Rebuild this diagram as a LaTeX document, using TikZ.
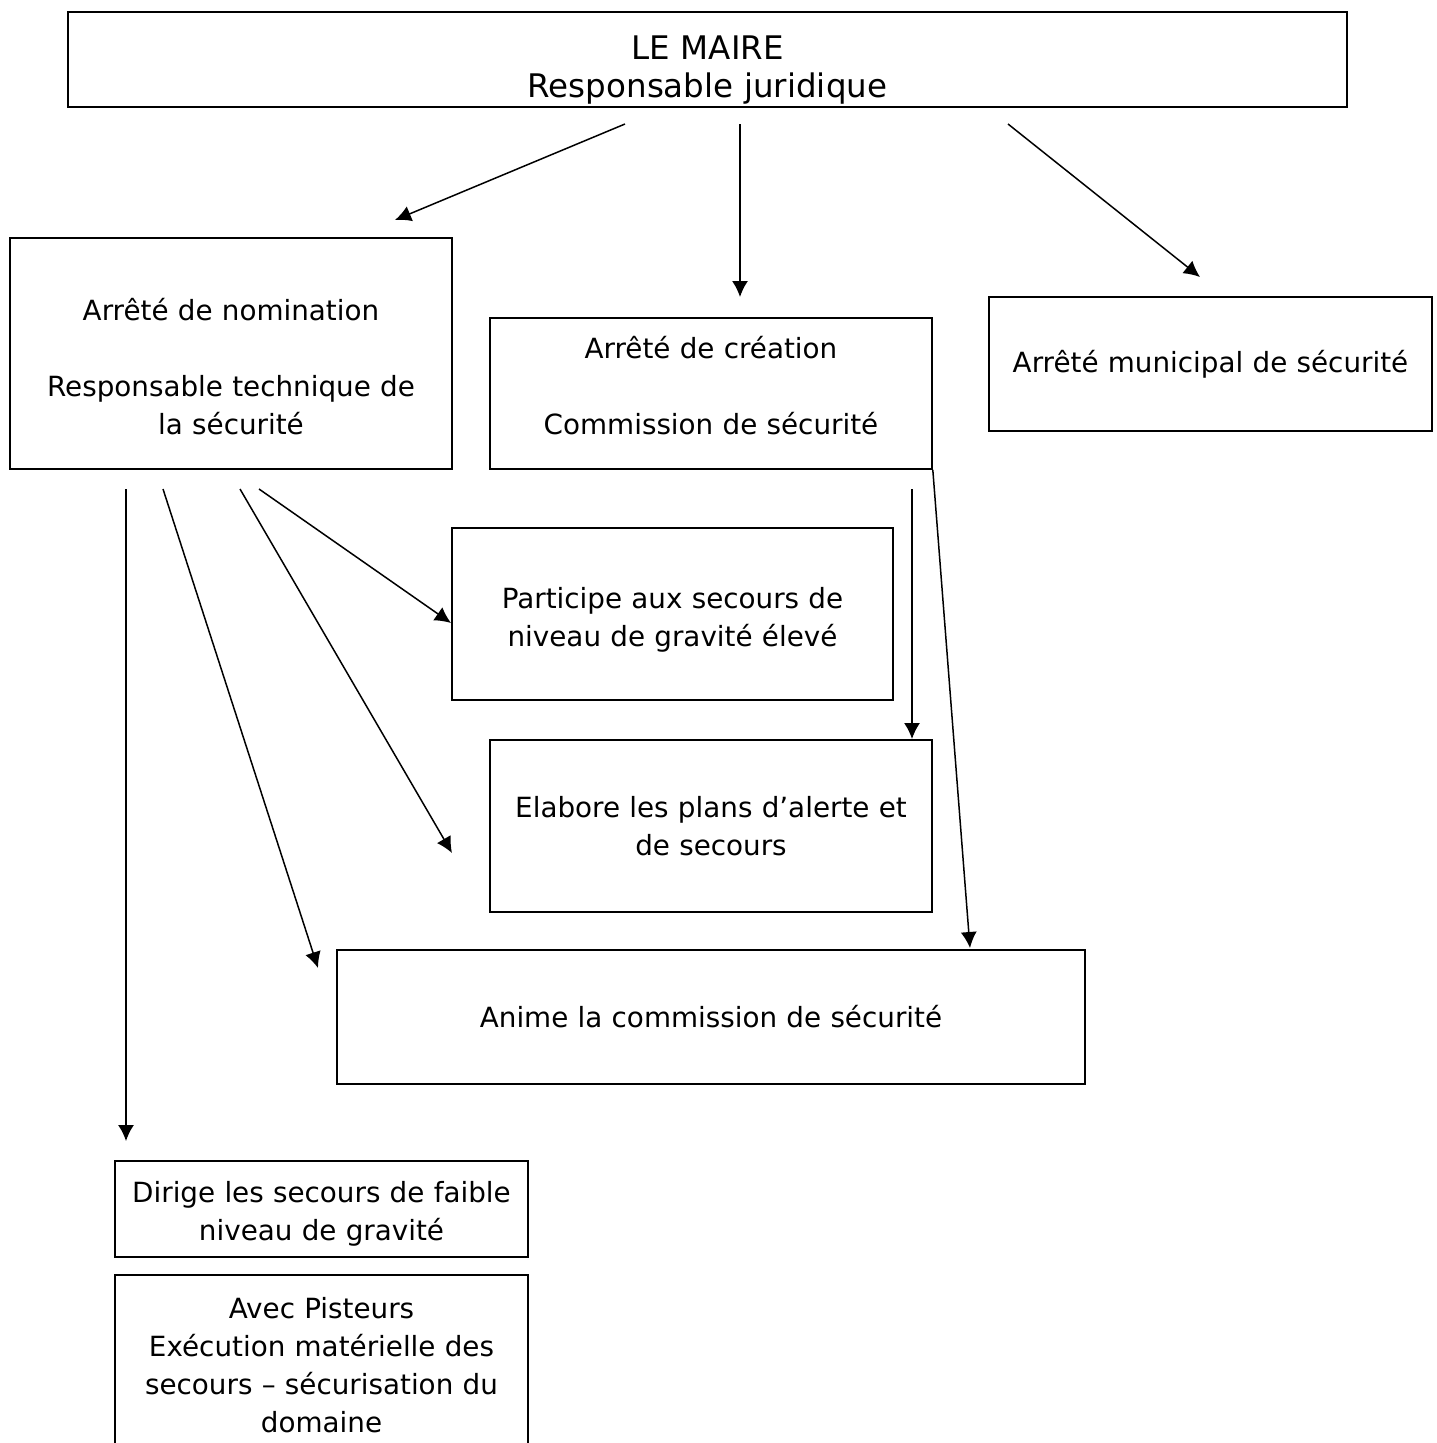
\documentclass[tikz,border=0pt]{standalone}
\usepackage{fontspec}
\setmainfont{DejaVu Sans}
\usepackage{tikz}
\usetikzlibrary{arrows.meta, positioning}

\tikzset{
    box/.style={draw, line width=1.6pt, inner sep=0pt, align=center,
        font=\fontsize{27.8}{38}\selectfont},
    arr/.style={-{Latex[length=16pt, width=16pt]}, line width=1.5pt}
}
% extra height on a first line / extra depth on a last line
\newcommand{\tophold}[1]{\rule{0pt}{#1}}
\newcommand{\bothold}[1]{\rule[-#1]{0pt}{0pt}}

\begin{document}
\begin{tikzpicture}[x=1pt, y=-1pt]
    \useasboundingbox (0,0) rectangle (1436,1443);

    % Boxes
    \node[box, text width=1279pt, minimum height=95pt,
        font=\fontsize{32.5}{38}\selectfont] (maire) at (707.5,59.5)
        {\tophold{45pt}LE MAIRE\\Responsable juridique};
    \node[box, text width=442pt, minimum height=231pt] (nomination) at (231,353.5)
        {\tophold{48pt}Arrêté de nomination\\[38pt]Responsable technique de\\la sécurité};
    \node[box, text width=442pt, minimum height=151pt] (creation) at (711,393.5)
        {Arrêté de création\\[38pt]Commission de sécurité\bothold{16pt}};
    \node[box, text width=443pt, minimum height=134pt] (municipal) at (1210.5,364)
        {Arrêté municipal de sécurité};
    \node[box, text width=441pt, minimum height=172pt] (participe) at (672.5,614)
        {\tophold{33pt}Participe aux secours de\\niveau de gravité élevé};
    \node[box, text width=442pt, minimum height=172pt] (elabore) at (711,826)
        {Elabore les plans d’alerte et\\de secours};
    \node[box, text width=748pt, minimum height=134pt] (anime) at (711,1017)
        {Anime la commission de sécurité};
    \node[box, text width=413pt, minimum height=96pt] (dirige) at (321.5,1209)
        {\tophold{31pt}Dirige les secours de faible\\niveau de gravité};
    \node[box, text width=413pt, minimum height=190pt] (pisteurs) at (321.5,1370)
        {Avec Pisteurs\\Exécution matérielle des\\secours -- sécurisation du\\domaine\bothold{10pt}};

    % Arrow ends (the arrows stop short of the boxes)
    \coordinate (m1) at (625,124);   \coordinate (m1e) at (395,220);
    \coordinate (m2) at (740,124);   \coordinate (m2e) at (740,297);
    \coordinate (m3) at (1008,124);  \coordinate (m3e) at (1200,277);
    \coordinate (n1) at (126,489);   \coordinate (n1e) at (126,1141);
    \coordinate (n2) at (163,489);   \coordinate (n2e) at (318,968);
    \coordinate (n3) at (240,489);   \coordinate (n3e) at (452,853);
    \coordinate (n4) at (259,489);   \coordinate (n4e) at (451,623);
    \coordinate (c1) at (912,489);   \coordinate (c1e) at (912,739);
    \coordinate (c2e) at (970,948);

    % From the mayor
    \draw[arr] (m1) -- (m1e);
    \draw[arr] (m2) -- (m2e);
    \draw[arr] (m3) -- (m3e);

    % From the nomination
    \draw[arr] (n1) -- (n1e);
    \draw[arr] (n2) -- (n2e);
    \draw[arr] (n3) -- (n3e);
    \draw[arr] (n4) -- (n4e);

    % From the commission
    \draw[arr] (c1) -- (c1e);
    \draw[arr] (creation.south east) -- (c2e);
\end{tikzpicture}
\end{document}
